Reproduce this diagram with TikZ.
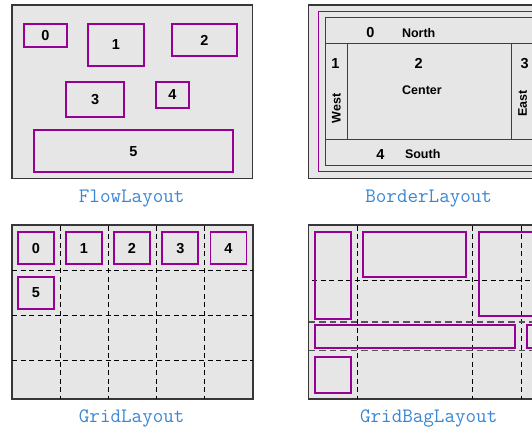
\documentclass[tikz,border=0pt]{standalone}
\usepackage{fontspec}
\newfontfamily\lab{Liberation Sans}
\definecolor{boxc}{RGB}{150,0,150}
\definecolor{capc}{RGB}{58,135,214}
\definecolor{framec}{RGB}{55,55,55}
\definecolor{bgc}{RGB}{230,230,230}
\begin{document}
\begin{tikzpicture}[x=1pt,y=-1pt,
  panel/.style={draw=framec, line width=1.2pt, fill=bgc, inner sep=0pt},
  fbox/.style={draw=boxc, line width=1.9pt, inner sep=0pt, font=\lab\bfseries\fontsize{14.5}{16}\selectfont},
  gbox/.style={draw=boxc, line width=1.9pt, inner sep=0pt},
  tbox/.style={draw=boxc, line width=0.9pt, inner sep=0pt},
  dig/.style={inner sep=0pt, font=\lab\bfseries\fontsize{14.5}{16}\selectfont},
  word/.style={inner sep=0pt, font=\lab\bfseries\fontsize{12.5}{14}\selectfont},
  gridline/.style={black, line width=0.8pt, dash pattern=on 5pt off 3.5pt},
  ggridline/.style={framec!85, line width=1.3pt, dash pattern=on 6.5pt off 4pt},
  captxt/.style={text=capc, anchor=base, inner sep=0pt, font=\ttfamily\fontsize{20.5}{22}\selectfont}]
\clip (0,0) rectangle (532,427);
\fill[white] (0,0) rectangle (532,427);

% ---------------- FlowLayout ----------------
\node[panel, minimum width=240.5pt, minimum height=173.3pt] (flow) at (132.25,91.65) {};
\node[fbox, minimum width=43pt, minimum height=23pt] (f0) at (45.5,35.5) {0};
\node[fbox, minimum width=55.4pt, minimum height=42pt] (f1) at (116,45) {1};
\node[fbox, minimum width=64.7pt, minimum height=32.3pt] (f2) at (204.3,40.2) {2};
\node[fbox, minimum width=58.3pt, minimum height=35.6pt] (f3) at (95.2,99.5) {3};
\node[fbox, minimum width=33.3pt, minimum height=26.3pt] (f4) at (172.3,94.8) {4};
\node[fbox, minimum width=199.6pt, minimum height=42.3pt] (f5) at (133.5,151.2) {5};
\node[captxt] (capflow) at (131.7,202.5) {FlowLayout};

% ---------------- BorderLayout ----------------
\node[panel, minimum width=240.5pt, minimum height=173.3pt] (border) at (428.95,91.65) {};
\node[tbox, minimum width=221.4pt, minimum height=160pt] (bout) at (429,91.7) {};
\node[tbox, minimum width=208pt, minimum height=25.6pt] (bn) at (429,30.5) {};
\node[tbox, minimum width=22.7pt, minimum height=96.4pt] (bw) at (336.35,91.5) {};
\node[tbox, minimum width=163.6pt, minimum height=96.4pt] (bc) at (429.5,91.5) {};
\node[tbox, minimum width=21.7pt, minimum height=96.4pt] (be) at (522.15,91.5) {};
\node[tbox, minimum width=208pt, minimum height=25.6pt] (bs) at (429,152.5) {};
\node[dig] (b0) at (370.3,32.3) {0};
\node[word] (bnt) at (418.7,32.7) {North};
\node[dig] (b1) at (335.3,63.3) {1};
\node[dig] (b2) at (418.7,63.3) {2};
\node[dig] (b3) at (524.7,63.3) {3};
\node[word] (bct) at (422,90.7) {Center};
\node[word, rotate=90] (bwt) at (336.3,108.3) {West};
\node[word, rotate=90] (bet) at (522.7,103.3) {East};
\node[dig] (b4) at (380.3,154.3) {4};
\node[word] (bst) at (422.7,154.3) {South};
\node[captxt] (capborder) at (428.7,202.5) {BorderLayout};

% ---------------- GridLayout ----------------
\node[panel, minimum width=240.7pt, minimum height=173.3pt] (grid) at (132.35,312.35) {};
\foreach \x in {60,108.3,156.3,204.3}
  \draw[gridline] (\x,225.7) -- (\x,399);
\foreach \y in {270.7,315.3,360.3}
  \draw[gridline] (12,\y) -- (252.7,\y);
\node[fbox, minimum width=36pt, minimum height=32.3pt] (g0) at (36,248.2) {0};
\node[fbox, minimum width=36pt, minimum height=32.3pt] (g1) at (84,248.2) {1};
\node[fbox, minimum width=36pt, minimum height=32.3pt] (g2) at (132,248.2) {2};
\node[fbox, minimum width=36pt, minimum height=32.3pt] (g3) at (180.3,248.2) {3};
\node[fbox, minimum width=36pt, minimum height=32.3pt] (g4) at (228.5,248.2) {4};
\node[fbox, minimum width=36pt, minimum height=32.6pt] (g5) at (36,293) {5};
\draw[framec, line width=1.2pt] (grid.north west) rectangle (grid.south east);
\node[captxt] (capgrid) at (131.7,422.3) {GridLayout};

% ---------------- GridBagLayout ----------------
\node[panel, minimum width=240.5pt, minimum height=173.3pt] (gbag) at (428.95,312.35) {};
\foreach \x in {357,472.7,521}
  \draw[gridline] (\x,225.7) -- (\x,399);
\draw[gridline] (312,280.3) -- (549,280.3);
\draw[ggridline] (308.7,322) -- (549,322);
\draw[ggridline] (308.7,350.7) -- (549,350.7);
\node[gbox, minimum width=36pt, minimum height=86.7pt] (ga) at (333,275.35) {};
\node[gbox, minimum width=103pt, minimum height=45pt] (gb) at (414.8,254.5) {};
\node[gbox, minimum width=66.3pt, minimum height=83.7pt] (gc) at (511.85,273.85) {};
\node[gbox, minimum width=199.7pt, minimum height=22.7pt] (gd) at (414.85,336.35) {};
\node[gbox, minimum width=18.3pt, minimum height=22.7pt] (ge) at (535.85,336.35) {};
\node[gbox, minimum width=36pt, minimum height=36pt] (gf) at (333,375) {};
\draw[framec, line width=1.2pt] (gbag.north west) rectangle (gbag.south east);
\node[captxt] (capgbag) at (428.7,422.3) {GridBagLayout};
\end{tikzpicture}
\end{document}
